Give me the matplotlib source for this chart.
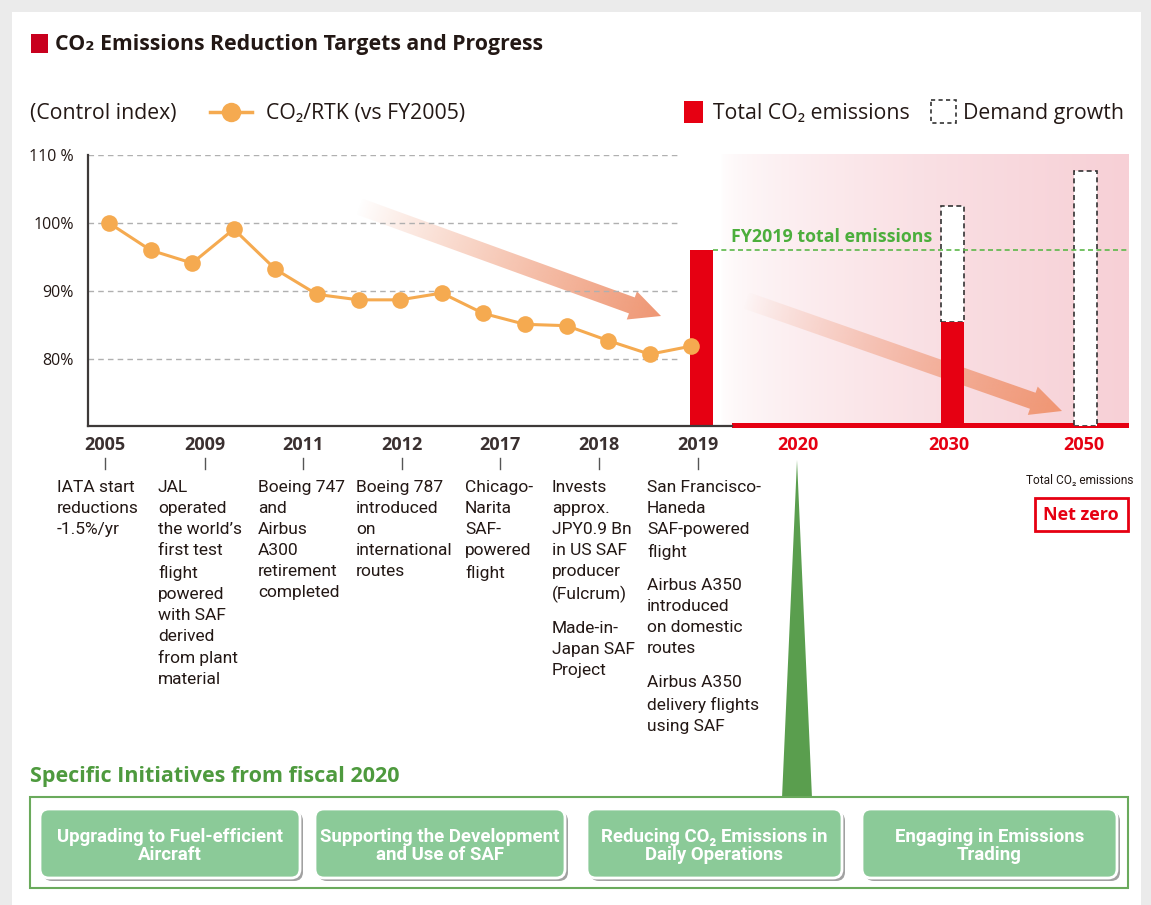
import numpy as np
import matplotlib.pyplot as plt
from matplotlib.patches import Rectangle, Polygon, FancyBboxPatch
from matplotlib.lines import Line2D

# values
years = list(range(2005, 2020))
co2_rtk = [100.0, 96.0, 94.1, 99.1, 93.2, 89.5, 88.7, 88.7, 89.7, 86.7, 85.1, 84.9, 82.7, 80.7, 81.9]

# total CO2 emissions index (FY2019 = 100) and top of demand growth box
bar_years = ['2019', '2030', '2050']
total_emissions = [100, 59, 0]
demand_growth = [None, 125, 145]

pct_ticks = [80, 90, 100, 110]
pct_labels = ['80%', '90%', '100%', '110 %']

timeline_years = ['2005', '2009', '2011', '2012', '2017', '2018', '2019']
target_years = ['2020', '2030', '2050']
notes = [
    ["IATA start\nreductions\n-1.5%/yr"],
    ["JAL\noperated\nthe world’s\nfirst test\nflight\npowered\nwith SAF\nderived\nfrom plant\nmaterial"],
    ["Boeing 747\nand\nAirbus\nA300\nretirement\ncompleted"],
    ["Boeing 787\nintroduced\non\ninternational\nroutes"],
    ["Chicago-\nNarita\nSAF-\npowered\nflight"],
    ["Invests\napprox.\nJPY0.9 Bn\nin US SAF\nproducer\n(Fulcrum)", "Made-in-\nJapan SAF\nProject"],
    ["San Francisco-\nHaneda\nSAF-powered\nflight", "Airbus A350\nintroduced\non domestic\nroutes",
     "Airbus A350\ndelivery flights\nusing SAF"],
]
initiatives = ["Upgrading to Fuel-efficient\nAircraft", "Supporting the Development\nand Use of SAF",
               "Reducing CO₂ Emissions in\nDaily Operations", "Engaging in Emissions\nTrading"]

RED = '#e60012'
ORANGE = '#f5aa50'
INK = '#231815'
OPEN = ['Open Sans', 'DejaVu Sans']
ROBO = ['Roboto', 'DejaVu Sans']

W, H = 1151, 905
fig = plt.figure(figsize=(W / 100, H / 100), dpi=100)
fig.patch.set_facecolor('#ebebeb')

# overlay in pixel coordinates for the decoration
ov = fig.add_axes([0, 0, 1, 1])
ov.set_zorder(-5)
ov.axis('off')


def grad_arrow(ax, tail, tip, shaft, head_w, head_len, rgb):
    p0, p1 = np.array(tail, float), np.array(tip, float)
    d = p1 - p0
    L = np.hypot(*d)
    u = d / L
    n = np.array([-u[1], u[0]])
    pb = p1 - u * head_len
    pts = [p0 + n * shaft / 2, pb + n * shaft / 2, pb + n * head_w / 2, p1,
           pb - n * head_w / 2, pb - n * shaft / 2, p0 - n * shaft / 2]
    poly = Polygon(pts, closed=True, facecolor='none', edgecolor='none')
    ax.add_patch(poly)
    xs = [p[0] for p in pts]
    ys = [p[1] for p in pts]
    x0, x1, y0, y1 = min(xs), max(xs), min(ys), max(ys)
    gx, gy = np.meshgrid(np.linspace(x0, x1, 300), np.linspace(y0, y1, 150))
    t = np.clip(((gx - p0[0]) * u[0] + (gy - p0[1]) * u[1]) / L, 0, 1)
    img = np.zeros(gx.shape + (4,))
    img[..., :3] = rgb
    img[..., 3] = t ** 0.9
    im = ax.imshow(img, extent=(x0, x1, y1, y0), origin='upper', interpolation='bilinear', zorder=3)
    im.set_clip_path(poly)


# white panel
ov.add_patch(Rectangle((12, 12), 1129, 900, facecolor='white', edgecolor='none', zorder=0))

# pink zone behind the targets
g = np.linspace(0, 1, 256) ** 0.6
pink = np.array([247, 208, 214]) / 255
zone = np.ones((2, 256, 3))
zone[..., :] = 1 - g[None, :, None] * (1 - pink)
ov.imshow(zone, extent=(720, 1129, 426, 155), origin='upper', aspect='auto', zorder=1)

grad_arrow(ov, (358, 206), (661, 316), 17, 30, 31, np.array([239, 150, 115]) / 255)
grad_arrow(ov, (745, 300), (1062, 411), 17, 30, 31, np.array([240, 150, 115]) / 255)

ov.add_patch(Rectangle((732, 423), 397, 5, facecolor=RED, edgecolor='none', zorder=4))

# title
ov.add_patch(Rectangle((31, 34), 17, 19, facecolor='#c8001e', edgecolor='none', zorder=4))
ov.text(55, 44.5, 'CO₂ Emissions Reduction Targets and Progress', family=OPEN, weight='bold',
        fontsize=15.3, color=INK, va='center', ha='left')

# legend row
LEG = 15.3
LY = 113
ov.text(30, LY, '(Control index)', family=OPEN, fontsize=LEG, color=INK, va='center')
ov.add_line(Line2D([210, 252], [112, 112], color=ORANGE, lw=2.5))
ov.plot([231], [112], 'o', color=ORANGE, ms=14, mec='none')
ov.text(266, LY, 'CO₂/RTK (vs FY2005)', family=OPEN, fontsize=LEG, color=INK, va='center')
ov.add_patch(Rectangle((684, 101), 19, 22, facecolor=RED, edgecolor='none'))
ov.text(713, LY, 'Total CO₂ emissions', family=OPEN, fontsize=LEG, color=INK, va='center')
ov.add_patch(Rectangle((931, 100), 25, 23, facecolor='white', edgecolor='#333333', lw=1.2,
                       ls=(0, (2.5, 2))))
ov.text(963, LY, 'Demand growth', family=OPEN, fontsize=LEG, color=INK, va='center')

ov.text(932, 237, 'FY2019 total emissions', family=OPEN, weight='bold', fontsize=12.8,
        color='#4cae3c', va='center', ha='right', zorder=5)

# timeline labels
label_x = [105, 205, 303, 402, 500, 599, 698]
desc_x = [57, 158, 258, 356, 465, 552, 647]
LH, GAP = 21.5, 11.5
for lx, dx, yr, paras in zip(label_x, desc_x, timeline_years, notes):
    ov.text(lx, 445, yr, family=OPEN, weight='bold', fontsize=13, color='#3a3030',
            ha='center', va='center')
    ov.add_line(Line2D([lx, lx], [458, 469], color='#555555', lw=1))
    y = 480
    for p in paras:
        ov.text(dx, y, p, family=ROBO, fontsize=12.5, color=INK, ha='left', va='top',
                linespacing=1.5)
        y += p.count('\n') * LH + LH + GAP

for lx, yr in zip([798, 949, 1084], target_years):
    ov.text(lx, 445, yr, family=OPEN, weight='bold', fontsize=13, color=RED,
            ha='center', va='center')

ov.text(1080, 480, 'Total CO₂ emissions', family=ROBO, fontsize=8.6, color=INK,
        ha='center', va='center')
ov.add_patch(Rectangle((1035, 498), 93, 33, facecolor='white', edgecolor=RED, lw=2))
ov.text(1081, 515, 'Net zero', family=OPEN, weight='bold', fontsize=13, color=RED,
        ha='center', va='center')

# green pointer and initiatives frame
ov.add_patch(Polygon([(797, 460), (782, 798), (812, 798)], closed=True,
                     facecolor='#5a9e4e', edgecolor='none'))
ov.text(30, 776, 'Specific Initiatives from fiscal 2020', family=OPEN, weight='bold',
        fontsize=15.5, color='#4e9a3e', va='center')
ov.add_patch(Rectangle((30, 797), 1098, 91, facecolor='white', edgecolor='#6aaa5c', lw=1.5))

box_x = [40, 315, 587, 862]
box_w = [260, 250, 255, 255]
for bx, bw, txt in zip(box_x, box_w, initiatives):
    ov.add_patch(FancyBboxPatch((bx + 3, 812), bw, 69, boxstyle='round,pad=0,rounding_size=9',
                                facecolor='#555555', edgecolor='none', alpha=0.55))
    ov.add_patch(FancyBboxPatch((bx, 809), bw, 69, boxstyle='round,pad=0,rounding_size=9',
                                facecolor='#8bca98', edgecolor='white', lw=2))
    ov.text(bx + bw / 2, 846, txt, family=ROBO, weight='bold', fontsize=13.4, color='white',
            ha='center', va='center', linespacing=1.05)

ov.set_xlim(0, W)
ov.set_ylim(H, 0)
ov.set_aspect('auto')

# chart area
y_lo = 110 - (426 - 155) / 6.8
ax = fig.add_axes([88 / W, (H - 426) / H, (1130 - 88) / W, (426 - 155) / H])
ax.set_xlim(88, 1130)
ax.set_ylim(y_lo, 110)
axb = ax.twinx()
axb.set_ylim(0, 100 * (426 - 155) / (426 - 250))
ax.set_zorder(2)
axb.set_zorder(1)
ax.patch.set_visible(False)
axb.patch.set_visible(False)

ax.hlines(pct_ticks, 88, 680, colors='#b0b0b0', linestyles=(0, (4, 3)), lw=1)
xs = [109 + (yr - 2005) * 41.6 for yr in years]
ax.plot(xs, co2_rtk, color=ORANGE, lw=2.2, marker='o', ms=12, mec='none', clip_on=False)

bar_x = [701.5, 952.5, 1085.5]
axb.bar(bar_x, total_emissions, width=23, color=RED, zorder=3)
for bx, lo, hi in zip(bar_x, total_emissions, demand_growth):
    if hi is not None:
        axb.add_patch(Rectangle((bx - 11.5, lo), 23, hi - lo, facecolor='white',
                                edgecolor='#333333', lw=1.2, ls=(0, (3, 2)), zorder=2))
axb.hlines(100, 713, 1129, colors='#5cb84a', linestyles=(0, (3, 2)), lw=1.2)

ax.set_yticks(pct_ticks)
ax.set_yticklabels(pct_labels, family=OPEN, fontsize=11.5, color=INK)
ax.tick_params(axis='y', length=0, pad=10)
ax.set_xticks([])
axb.set_yticks([])
for s in ['top', 'right']:
    ax.spines[s].set_visible(False)
for s in axb.spines.values():
    s.set_visible(False)
ax.spines['left'].set_color('#3e3a39')
ax.spines['left'].set_linewidth(1.6)
ax.spines['bottom'].set_color('#3e3a39')
ax.spines['bottom'].set_linewidth(1.6)
ax.spines['bottom'].set_bounds(88, 732)

fig.savefig('out.png', dpi=100, facecolor=fig.get_facecolor())
